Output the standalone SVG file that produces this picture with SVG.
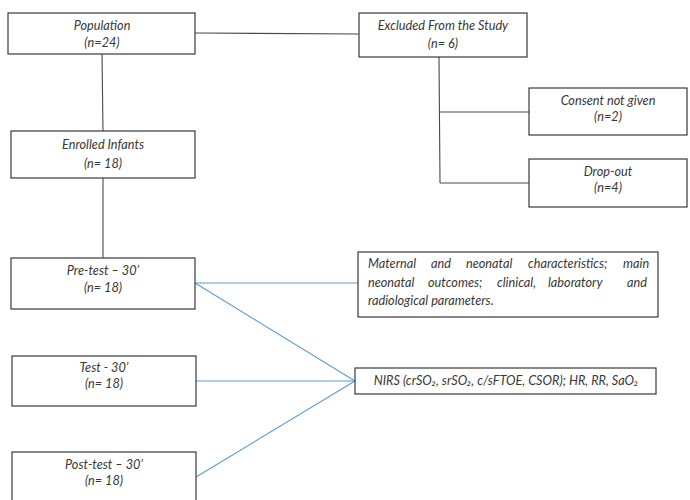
<svg xmlns="http://www.w3.org/2000/svg" width="690" height="500" viewBox="0 0 690 500">
  <style>
    .box { fill: #ffffff; stroke: #3a3a3a; stroke-width: 1.2; }
    .t { font-family: Lato, "Open Sans", "Liberation Sans", sans-serif; font-style: italic; font-size: 12.7px; fill: #383838; }
    .c { text-anchor: middle; }
    .k { fill: none; stroke: #4a4a4a; stroke-width: 1.1; }
    .b { fill: none; stroke: #5b9bd5; stroke-width: 1.1; }
  </style>
  <rect width="690" height="500" fill="#ffffff"/>

  <g id="connectors">
    <line class="k" x1="195" y1="33" x2="359" y2="34"/>
    <line class="k" x1="102" y1="54" x2="103" y2="131"/>
    <line class="k" x1="103" y1="178" x2="103" y2="258"/>
    <line class="k" x1="439" y1="57" x2="440" y2="183"/>
    <line class="k" x1="440" y1="112" x2="529" y2="112"/>
    <line class="k" x1="440" y1="183" x2="529" y2="183"/>
    <line class="b" x1="195" y1="283" x2="358" y2="283"/>
    <line class="b" x1="195" y1="283" x2="355" y2="381"/>
    <line class="b" x1="196" y1="381" x2="355" y2="381"/>
    <line class="b" x1="196" y1="477" x2="355" y2="381"/>
  </g>

  <g id="population">
    <rect class="box" x="8" y="13" width="187" height="41"/>
    <text class="t c" x="102" y="30">Population</text>
    <text class="t c" x="102" y="47">(n=24)</text>
  </g>

  <g id="enrolled">
    <rect class="box" x="11" y="131" width="184" height="47"/>
    <text class="t c" x="103" y="149">Enrolled Infants</text>
    <text class="t c" x="103" y="168">(n= 18)</text>
  </g>

  <g id="pretest">
    <rect class="box" x="11" y="258" width="184" height="51"/>
    <text class="t c" x="103" y="275">Pre-test – 30’</text>
    <text class="t c" x="103" y="292">(n= 18)</text>
  </g>

  <g id="test">
    <rect class="box" x="12" y="356" width="184" height="50"/>
    <text class="t c" x="104" y="372">Test - 30’</text>
    <text class="t c" x="104" y="388">(n= 18)</text>
  </g>

  <g id="posttest">
    <rect class="box" x="12" y="452" width="184" height="60"/>
    <text class="t c" x="104" y="469">Post-test – 30’</text>
    <text class="t c" x="104" y="485">(n= 18)</text>
  </g>

  <g id="excluded">
    <rect class="box" x="359" y="13" width="168" height="44"/>
    <text class="t c" x="443" y="30">Excluded From the Study</text>
    <text class="t c" x="443" y="48">(n= 6)</text>
  </g>

  <g id="consent">
    <rect class="box" x="529" y="88" width="158" height="47"/>
    <text class="t c" x="608" y="105">Consent not given</text>
    <text class="t c" x="608" y="121">(n=2)</text>
  </g>

  <g id="dropout">
    <rect class="box" x="529" y="159" width="158" height="48"/>
    <text class="t c" x="608" y="176">Drop-out</text>
    <text class="t c" x="608" y="192">(n=4)</text>
  </g>

  <g id="characteristics">
    <rect class="box" x="358" y="252" width="300" height="65"/>
    <text class="t" y="268"><tspan x="368">Maternal</tspan><tspan x="431">and</tspan><tspan x="466">neonatal</tspan><tspan x="528">characteristics;</tspan><tspan x="623">main</tspan></text>
    <text class="t" y="287"><tspan x="368">neonatal</tspan><tspan x="428">outcomes;</tspan><tspan x="497">clinical,</tspan><tspan x="548">laboratory</tspan><tspan x="627">and</tspan></text>
    <text class="t" x="368" y="305">radiological parameters.</text>
  </g>

  <g id="nirs">
    <rect class="box" x="355" y="368" width="301" height="26"/>
    <text class="t c" x="506" y="385">NIRS (crSO₂, srSO₂, c/sFTOE, CSOR); HR, RR, SaO₂</text>
  </g>
</svg>
